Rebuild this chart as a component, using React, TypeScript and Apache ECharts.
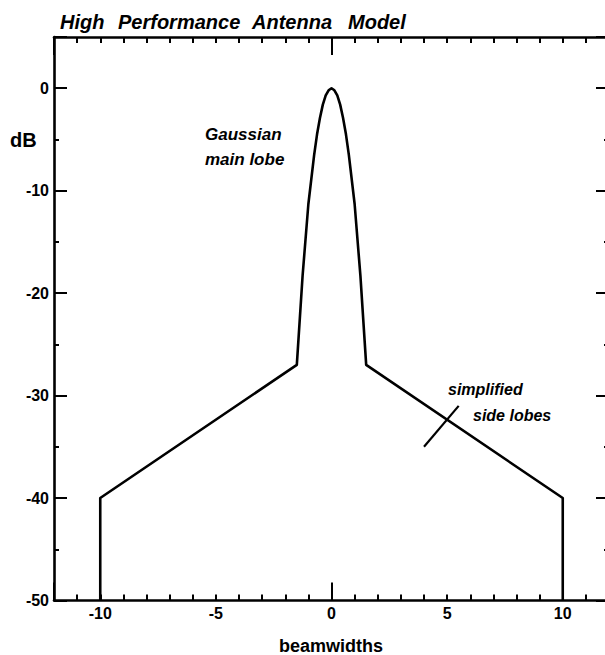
import React, { useEffect, useRef } from "react";
import * as echarts from "echarts";

// Antenna pattern (beamwidths vs dB)
const beamX = [-10, -10, -1.5, -1.25, -1, -0.75, -0.625, -0.5, -0.375, -0.25, -0.125, 0, 0.125, 0.25, 0.375, 0.5, 0.625, 0.75, 1, 1.25, 1.5, 10, 10];
const gainDb = [-50, -40, -27, -18.3, -11.3, -6.5, -4.5, -2.9, -1.6, -0.7, -0.2, 0, -0.2, -0.7, -1.6, -2.9, -4.5, -6.5, -11.3, -18.3, -27, -40, -50];

// Pointer line for the "simplified side lobes" note
const pointerX = [4, 5.5];
const pointerY = [-35, -31];

const xTickLabels = [-10, -5, 0, 5, 10];
const yTickLabels = [-50, -40, -30, -20, -10, 0];

const titleWords = ["High", "Performance", "Antenna", "Model"];

const FONT = "'Liberation Sans', Arial, Helvetica, sans-serif";

export default function App() {
  const ref = useRef<HTMLDivElement>(null);

  useEffect(() => {
    if (!ref.current) return;
    const chart = echarts.init(ref.current, undefined, { renderer: "svg" });

    const mainData = beamX.map((x, i) => [x, gainDb[i]]);
    const pointerData = pointerX.map((x, i) => [x, pointerY[i]]);

    const lineCol = "#000";
    const axisLine = { show: true, onZero: false, lineStyle: { color: lineCol, width: 2.6 } };
    const noLine = { show: false, onZero: false };

    const baseX = { type: "value", min: -12, max: 12, splitLine: { show: false } };
    const baseY = { type: "value", min: -50, max: 5, splitLine: { show: false } };

    const titleX = [60, 118, 252, 348];

    chart.setOption({
      animation: false,
      backgroundColor: "#fff",
      grid: { left: 54, right: -4, top: 37, bottom: 54.5, containLabel: false, outerBoundsMode: "none" },
      xAxis: [
        {
          ...baseX,
          position: "bottom",
          interval: 1,
          axisLine,
          axisTick: { show: true, inside: true, length: 6, lineStyle: { color: lineCol, width: 2 } },
          axisLabel: {
            show: true,
            margin: 5,
            color: lineCol,
            fontFamily: FONT,
            fontWeight: "bold",
            fontSize: 16,
            formatter: (v: number) => (xTickLabels.indexOf(v) >= 0 ? String(v) : ""),
          },
        },
        {
          ...baseX,
          position: "bottom",
          interval: 12,
          axisLine: noLine,
          axisTick: { show: true, inside: true, length: 18, lineStyle: { color: lineCol, width: 2 } },
          axisLabel: { show: false },
        },
        {
          ...baseX,
          position: "top",
          interval: 1,
          axisLine,
          axisTick: { show: true, inside: true, length: 6, lineStyle: { color: lineCol, width: 2 } },
          axisLabel: { show: false },
        },
        {
          ...baseX,
          position: "top",
          interval: 12,
          axisLine: noLine,
          axisTick: { show: true, inside: true, length: 18, lineStyle: { color: lineCol, width: 2 } },
          axisLabel: { show: false },
        },
      ],
      yAxis: [
        {
          ...baseY,
          position: "left",
          interval: 10,
          axisLine,
          axisTick: { show: true, inside: true, length: 13, lineStyle: { color: lineCol, width: 2 } },
          axisLabel: {
            show: true,
            margin: 5,
            color: lineCol,
            fontFamily: FONT,
            fontWeight: "bold",
            fontSize: 16,
            formatter: (v: number) => (yTickLabels.indexOf(v) >= 0 ? String(v) : ""),
          },
        },
        {
          ...baseY,
          position: "left",
          interval: 5,
          axisLine: noLine,
          axisTick: { show: true, inside: true, length: 5, lineStyle: { color: lineCol, width: 2 } },
          axisLabel: { show: false },
        },
        {
          ...baseY,
          position: "right",
          interval: 10,
          axisLine: noLine,
          axisTick: { show: true, inside: true, length: 13, lineStyle: { color: lineCol, width: 2 } },
          axisLabel: { show: false },
        },
        {
          ...baseY,
          position: "right",
          interval: 5,
          axisLine: noLine,
          axisTick: { show: true, inside: true, length: 5, lineStyle: { color: lineCol, width: 2 } },
          axisLabel: { show: false },
        },
      ],
      series: [
        {
          type: "line",
          xAxisIndex: 0,
          yAxisIndex: 0,
          data: mainData,
          showSymbol: false,
          smooth: false,
          lineStyle: { color: lineCol, width: 2.6, join: "round" },
          silent: true,
        },
        {
          type: "line",
          xAxisIndex: 0,
          yAxisIndex: 0,
          data: pointerData,
          showSymbol: false,
          lineStyle: { color: lineCol, width: 2.2 },
          silent: true,
        },
      ],
      graphic: [
        ...titleWords.map((w, i) => ({
          type: "text",
          x: titleX[i],
          y: 22,
          style: {
            text: w,
            fill: lineCol,
            font: `italic bold 20px ${FONT}`,
            verticalAlign: "middle",
          },
        })),
        {
          type: "text",
          x: 10,
          y: 140,
          style: { text: "dB", fill: lineCol, font: `bold 20px ${FONT}`, verticalAlign: "middle" },
        },
        {
          type: "text",
          x: 331,
          y: 646,
          style: { text: "beamwidths", fill: lineCol, font: `bold 18px ${FONT}`, align: "center", verticalAlign: "middle" },
        },
        {
          type: "text",
          x: 205,
          y: 134,
          style: { text: "Gaussian", fill: lineCol, font: `italic bold 17px ${FONT}`, verticalAlign: "middle" },
        },
        {
          type: "text",
          x: 205,
          y: 159,
          style: { text: "main lobe", fill: lineCol, font: `italic bold 17px ${FONT}`, verticalAlign: "middle" },
        },
        {
          type: "text",
          x: 448,
          y: 389,
          style: { text: "simplified", fill: lineCol, font: `italic bold 16px ${FONT}`, verticalAlign: "middle" },
        },
        {
          type: "text",
          x: 473,
          y: 415,
          style: { text: "side lobes", fill: lineCol, font: `italic bold 16px ${FONT}`, verticalAlign: "middle" },
        },
      ],
    });

    return () => chart.dispose();
  }, []);

  return (
    <div
      ref={ref}
      style={{ position: "absolute", left: 0, top: 0, width: 605, height: 655, overflow: "hidden" }}
    />
  );
}
